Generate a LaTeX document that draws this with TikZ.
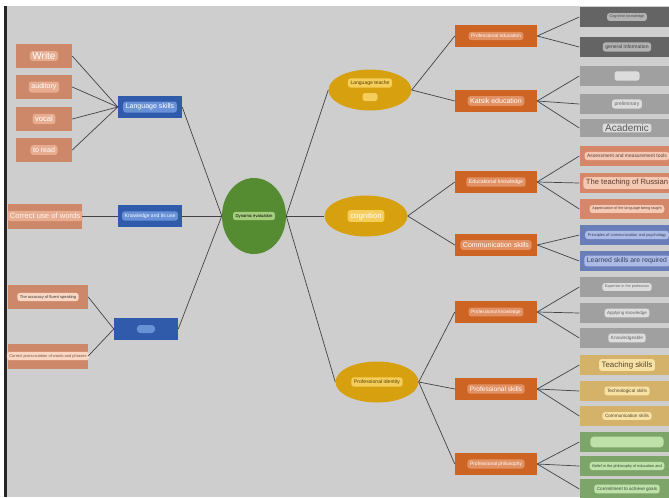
\documentclass[tikz,border=0pt]{standalone}
\usepackage{fontspec}
\setmainfont{Liberation Sans}
\usetikzlibrary{shapes.geometric}
\definecolor{bgc}{RGB}{206,206,206}
\definecolor{linec}{RGB}{68,68,68}
\definecolor{salmon}{RGB}{205,135,105}
\definecolor{salpill}{RGB}{232,172,145}
\definecolor{peachpill}{RGB}{250,215,195}
\definecolor{blueb}{RGB}{48,90,170}
\definecolor{bluepill}{RGB}{105,145,215}
\definecolor{orangeb}{RGB}{205,100,35}
\definecolor{orpill}{RGB}{225,145,100}
\definecolor{goldc}{RGB}{215,160,15}
\definecolor{goldpill}{RGB}{245,205,90}
\definecolor{greenc}{RGB}{85,140,50}
\definecolor{greenpill}{RGB}{165,205,125}
\definecolor{dgrey}{RGB}{100,100,100}
\definecolor{dgpill}{RGB}{178,178,178}
\definecolor{mgrey}{RGB}{160,160,160}
\definecolor{mgpill}{RGB}{220,220,220}
\definecolor{rsalmon}{RGB}{212,135,105}
\definecolor{rsalpill}{RGB}{245,200,180}
\definecolor{bgrey}{RGB}{105,125,185}
\definecolor{bgpill}{RGB}{172,187,230}
\definecolor{tan}{RGB}{212,178,105}
\definecolor{tanpill}{RGB}{248,225,165}
\definecolor{lgreen}{RGB}{125,165,105}
\definecolor{lgpill}{RGB}{190,225,170}
\newcommand{\fsz}[1]{\fontsize{#1}{#1}\selectfont}
\tikzset{
  link/.style={draw=linec, line width=0.6pt},
  lleaf/.style={rectangle, fill=salmon, minimum width=1.68cm, minimum height=0.72cm, inner sep=0pt},
  bluebox/.style={rectangle, fill=blueb, minimum width=1.92cm, minimum height=0.66cm, inner sep=0pt},
  orbox/.style={rectangle, fill=orangeb, minimum width=2.46cm, minimum height=0.68cm, inner sep=0pt},
  rleaf/.style={rectangle, minimum width=2.85cm, minimum height=0.62cm, inner sep=0pt},
  goldell/.style={ellipse, fill=goldc, minimum width=2.49cm, minimum height=1.23cm, inner sep=0pt},
  pill/.style={rounded corners=2.2pt, inner xsep=2.2pt, inner ysep=1.9pt}
}
\begin{document}
\begin{tikzpicture}[x=0.03cm, y=-0.03cm]
\useasboundingbox (0,0) rectangle (669,497);
\fill[white] (0,0) rectangle (669,497);
\fill[bgc] (7,6) rectangle (669,497);
\fill[black!85] (4,6) rectangle (7,497);

\node[ellipse, fill=greenc, minimum width=1.92cm, minimum height=2.28cm, inner sep=0pt] (dyn) at (254,216){};
\node[pill, fill=greenpill, text=black, font=\fsz{3.6}] (dyn-t) at (dyn) {Dynamic evaluation};

\node[bluebox] (lang) at (150,107){};
\node[pill, fill=bluepill, text=white, font=\fsz{6}] (lang-t) at (lang) {Language skills};
\node[lleaf] (write) at (44,56){};
\node[pill, fill=salpill, text=white, font=\fsz{8.5}, inner ysep=1pt] (write-t) at (write) {Write};
\node[lleaf] (audit) at (44,87){};
\node[pill, fill=salpill, text=white, font=\fsz{6}] (audit-t) at (audit) {auditory};
\node[lleaf] (vocal) at (44,119){};
\node[pill, fill=salpill, text=white, font=\fsz{6.5}] (vocal-t) at (vocal) {vocal};
\node[lleaf] (toread) at (44,150){};
\node[pill, fill=salpill, text=white, font=\fsz{6}] (toread-t) at (toread) {to read};
\draw[link] (write.east) -- (lang.west);
\draw[link] (audit.east) -- (lang.west);
\draw[link] (vocal.east) -- (lang.west);
\draw[link] (toread.east) -- (lang.west);
\draw[link] (lang.east) -- (dyn.west);

\node[bluebox] (know) at (150,216){};
\node[pill, fill=bluepill, text=white, font=\fsz{4.3}] (know-t) at (know) {Knowledge and its use};
\node[lleaf, minimum width=2.22cm, minimum height=0.75cm] (corr) at (45,216){};
\node[pill, fill=salpill, text=white!92!salmon, font=\fsz{6.5}] (corr-t) at (corr) {Correct use of words};
\draw[link] (corr.east) -- (know.west);
\draw[link] (know.east) -- (dyn.west);

\node[bluebox] (lit) at (146,329){};
\node[pill, fill=bluepill, minimum width=0.55cm, minimum height=0.24cm, rounded corners=3pt] (lit-t) at (lit) {};
\node[lleaf, minimum width=2.4cm, minimum height=0.7cm] (accur) at (48,297){};
\node[pill, fill=peachpill, text=black!80, font=\fsz{3.4}] (accur-t) at (accur) {The accuracy of fluent speaking};
\node[lleaf, minimum width=2.4cm, minimum height=0.75cm] (pron) at (48,356){};
\node[pill, fill=peachpill, text=salmon!60!black, font=\fsz{3.4}] (pron-t) at (pron) {Correct pronunciation of words and phrases};
\draw[link] (accur.east) -- (lit.west);
\draw[link] (pron.east) -- (lit.west);
\draw[link] (lit.east) -- (dyn.west);

\node[goldell] (teach) at (370,90){};
\node[pill, fill=goldpill, text=goldc!40!black, font=\fsz{4.3}] (teach-t) at (370,83) {Language teache};
\node[pill, fill=goldpill, minimum width=0.45cm, minimum height=0.24cm] (teach-s) at (370,97) {};
\node[goldell] (cogn) at (366,216){};
\node[pill, fill=goldpill, text=white, font=\fsz{6.7}] (cogn-t) at (cogn) {cognition};
\node[goldell] (ident) at (377,382){};
\node[pill, fill=goldpill, text=goldc!40!black, font=\fsz{4.4}] (ident-t) at (ident) {Professional identity};
\draw[link] (dyn.east) -- (teach.west);
\draw[link] (dyn.east) -- (cogn.west);
\draw[link] (dyn.east) -- (ident.west);

\node[orbox] (profed) at (496,36){};
\node[pill, fill=orpill, text=white, font=\fsz{4.2}] (profed-t) at (profed) {Professional education};
\node[orbox] (katsik) at (496,101){};
\node[pill, fill=orpill, text=white, font=\fsz{6}] (katsik-t) at (katsik) {Katsik education};
\node[orbox] (educk) at (496,182){};
\node[pill, fill=orpill, text=white, font=\fsz{4.5}] (educk-t) at (educk) {Educational knowledge};
\node[orbox] (comm) at (496,245){};
\node[pill, fill=orpill, text=white, font=\fsz{6}] (comm-t) at (comm) {Communication skills};
\node[orbox] (profk) at (496,312){};
\node[pill, fill=orpill, text=white, font=\fsz{4}] (profk-t) at (profk) {Professional knowledge};
\node[orbox] (profs) at (496,389){};
\node[pill, fill=orpill, text=white, font=\fsz{5.6}] (profs-t) at (profs) {Professional skills};
\node[orbox] (profp) at (496,464){};
\node[pill, fill=orpill, text=white, font=\fsz{4.2}] (profp-t) at (profp) {Professional philosophy};
\draw[link] (teach.east) -- (profed.west);
\draw[link] (teach.east) -- (katsik.west);
\draw[link] (cogn.east) -- (educk.west);
\draw[link] (cogn.east) -- (comm.west);
\draw[link] (ident.east) -- (profk.west);
\draw[link] (ident.east) -- (profs.west);
\draw[link] (ident.east) -- (profp.west);

\node[rleaf, fill=dgrey] (r1) at (627,17){};
\node[pill, fill=dgpill, text=black!70, font=\fsz{3.2}] (r1-t) at (r1) {Cognitive knowledge};
\node[rleaf, fill=dgrey] (r2) at (627,47){};
\node[pill, fill=dgpill, text=black!75, font=\fsz{4.3}] (r2-t) at (r2) {general information};
\node[rleaf, fill=mgrey] (r3) at (627,76){};
\node[pill, fill=mgpill, minimum width=0.75cm, minimum height=0.28cm] (r3-t) at (r3) {};
\node[rleaf, fill=mgrey] (r4) at (627,104){};
\node[pill, fill=mgpill, text=black!60, font=\fsz{4.3}] (r4-t) at (r4) {preliminary};
\node[rleaf, fill=mgrey, minimum height=0.56cm] (r5) at (627,128){};
\node[pill, fill=mgpill, text=black!65, font=\fsz{8.5}, inner ysep=0.6pt] (r5-t) at (r5) {Academic};
\draw[link] (profed.east) -- (r1.west);
\draw[link] (profed.east) -- (r2.west);
\draw[link] (katsik.east) -- (r3.west);
\draw[link] (katsik.east) -- (r4.west);
\draw[link] (katsik.east) -- (r5.west);

\node[rleaf, fill=rsalmon] (r6) at (627,156){};
\node[pill, fill=rsalpill, text=rsalmon!45!black, font=\fsz{4.2}] (r6-t) at (r6) {Assessment and measurement tools};
\node[rleaf, fill=rsalmon] (r7) at (627,183){};
\node[pill, fill=rsalpill, text=rsalmon!45!black, font=\fsz{6.5}] (r7-t) at (r7) {The teaching of Russian};
\node[rleaf, fill=rsalmon] (r8) at (627,209){};
\node[pill, fill=rsalpill, text=rsalmon!45!black, font=\fsz{3.2}] (r8-t) at (r8) {Appreciation of the language being taught};
\node[rleaf, fill=bgrey] (r9) at (627,235){};
\node[pill, fill=bgpill, text=bgrey!50!black, font=\fsz{3.4}] (r9-t) at (r9) {Principles of communication and psychology};
\node[rleaf, fill=bgrey] (r10) at (627,261){};
\node[pill, fill=bgpill, text=bgrey!50!black, font=\fsz{5.8}] (r10-t) at (r10) {Learned skills are required};
\draw[link] (educk.east) -- (r6.west);
\draw[link] (educk.east) -- (r7.west);
\draw[link] (educk.east) -- (r8.west);
\draw[link] (comm.east) -- (r9.west);
\draw[link] (comm.east) -- (r10.west);

\node[rleaf, fill=mgrey] (r11) at (627,287){};
\node[pill, fill=mgpill, text=black!60, font=\fsz{3.2}] (r11-t) at (r11) {Expertise in the profession};
\node[rleaf, fill=mgrey] (r12) at (627,313){};
\node[pill, fill=mgpill, text=black!60, font=\fsz{3.8}] (r12-t) at (r12) {Applying knowledge};
\node[rleaf, fill=mgrey] (r13) at (627,338){};
\node[pill, fill=mgpill, text=black!60, font=\fsz{4}] (r13-t) at (r13) {Knowledgeable};
\draw[link] (profk.east) -- (r11.west);
\draw[link] (profk.east) -- (r12.west);
\draw[link] (profk.east) -- (r13.west);

\node[rleaf, fill=tan] (r14) at (627,365){};
\node[pill, fill=tanpill, text=tan!40!black, font=\fsz{6.7}] (r14-t) at (r14) {Teaching skills};
\node[rleaf, fill=tan] (r15) at (627,391){};
\node[pill, fill=tanpill, text=tan!40!black, font=\fsz{4}] (r15-t) at (r15) {Technological skills};
\node[rleaf, fill=tan] (r16) at (627,416){};
\node[pill, fill=tanpill, text=tan!40!black, font=\fsz{4}] (r16-t) at (r16) {Communication skills};
\draw[link] (profs.east) -- (r14.west);
\draw[link] (profs.east) -- (r15.west);
\draw[link] (profs.east) -- (r16.west);

\node[rleaf, fill=lgreen] (r17) at (627,442){};
\node[pill, fill=lgpill, minimum width=2.2cm, minimum height=0.32cm, rounded corners=3pt] (r17-t) at (r17) {};
\node[rleaf, fill=lgreen] (r18) at (627,466){};
\node[pill, fill=lgpill, text=lgreen!45!black, font=\fsz{3.3}] (r18-t) at (r18) {Belief in the philosophy of education and};
\node[rleaf, fill=lgreen] (r19) at (627,489){};
\node[pill, fill=lgpill, text=lgreen!45!black, font=\fsz{3.9}] (r19-t) at (r19) {Commitment to achieve goals};
\draw[link] (profp.east) -- (r17.west);
\draw[link] (profp.east) -- (r18.west);
\draw[link] (profp.east) -- (r19.west);
\end{tikzpicture}
\end{document}
